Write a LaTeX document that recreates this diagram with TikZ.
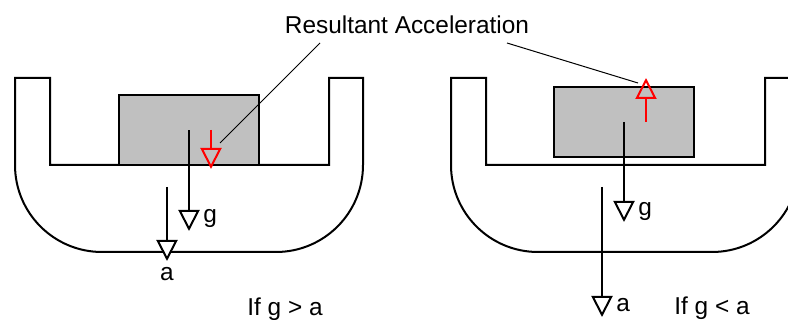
\documentclass[tikz,border=0pt]{standalone}
\usepackage{fontspec}
\setmainfont{Liberation Sans}
\usetikzlibrary{arrows.meta,positioning}
\definecolor{boxgray}{RGB}{192,192,192}

\begin{document}
\begin{tikzpicture}[x=0.5pt,y=0.5pt,font=\fontsize{12.2}{14}\selectfont,
  wall/.style={line width=1pt},
  blk/.style={draw,line width=1pt,fill=boxgray,minimum width=70pt,minimum height=35pt,inner sep=0pt},
  acc/.style={line width=1pt,-{Triangle[length=10.5pt,width=10.5pt,fill=white]}},
  res/.style={line width=1pt,red,-{Triangle[open,length=10.5pt,width=10.5pt]}},
  lead/.style={line width=0.5pt},
  lbl/.style={inner sep=0pt,anchor=base west},
  txt/.style={inner sep=0pt,anchor=base}]
\useasboundingbox (0,0) rectangle (788,-320);
\clip (0,0) rectangle (788,-320);
% the two vessels
\foreach \dx in {0,436}
  \draw[wall,shift={(\dx,0)}] (15,-78) -- (50,-78) -- (50,-165) -- (329,-165) -- (329,-78) -- (363,-78) -- (363,-165)
    arc[start angle=0,end angle=-90,radius=43.5pt] -- (102,-252)
    arc[start angle=270,end angle=180,radius=43.5pt] -- cycle;
% blocks
\node[blk] (boxL) at (189,-130.5) {};
\node[blk] (boxR) at (624,-122) {};
% arrow ends
\coordinate (gL) at (189,-231);
\coordinate (aL0) at (167,-187); \coordinate (aL) at (167,-261);
\coordinate (rL0) at (211,-130); \coordinate (rL) at (211,-169);
\coordinate (gR) at (624,-222);
\coordinate (aR0) at (602,-187); \coordinate (aR) at (602,-317);
\coordinate (rR0) at (646,-122); \coordinate (rR) at (646,-78);
\coordinate (ldL) at (320,-43); \coordinate (ldR) at (507,-43);
\coordinate (ldL1) at (220,-143); \coordinate (ldR1) at (638,-83);
% labels
\node[txt] (title) at (407,-34) {Resultant Acceleration};
\node[lbl] (gtxtL) at (203,-223) {g};
\node[txt] (atxtL) at (167,-281) {a};
\node[lbl] (gtxtR) at (638,-216) {g};
\node[lbl] (atxtR) at (616,-312) {a};
\node[txt] (condL) at (285,-315.5) {If g > a};
\node[txt] (condR) at (712,-315) {If g < a};
% arrows
\draw[acc] (boxL.center) -- (gL);
\draw[acc] (aL0) -- (aL);
\draw[acc] (boxR.center) -- (gR);
\draw[acc] (aR0) -- (aR);
\draw[lead] (ldL) -- (ldL1);
\draw[lead] (ldR) -- (ldR1);
\draw[res] (rL0) -- (rL);
\draw[res] (rR0) -- (rR);
\end{tikzpicture}
\end{document}
